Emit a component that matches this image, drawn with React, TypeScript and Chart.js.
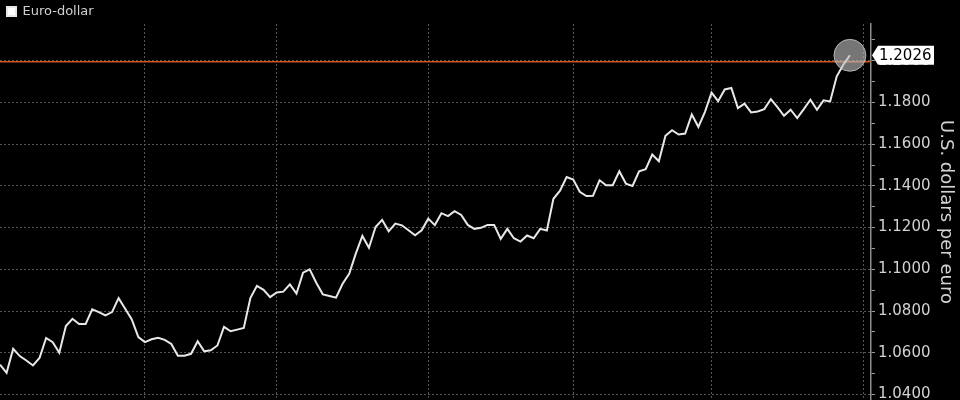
import React, { useEffect, useRef } from 'react';
import { Chart, registerables } from 'chart.js';

Chart.register(...registerables);

const seriesName = 'Euro-dollar';
const axisTitle = 'U.S. dollars per euro';

// Daily closes, one value per business day (Mar 2 – Aug 30)
const march = [1.0543, 1.0504, 1.0619, 1.0584, 1.0563, 1.0539, 1.0575, 1.0671, 1.0651, 1.06, 1.0728, 1.0763, 1.0738, 1.0738, 1.0808, 1.0795, 1.0779, 1.0795, 1.0862, 1.0811, 1.076, 1.0675];
const april = [1.0651, 1.0665, 1.0672, 1.0662, 1.0642, 1.0586, 1.0586, 1.0595, 1.0655, 1.0607, 1.0612, 1.0635, 1.0724, 1.0703, 1.0711, 1.0719, 1.0862, 1.0921, 1.0902, 1.0867];
const may = [1.0889, 1.0893, 1.0928, 1.0884, 1.0984, 1.1, 1.0936, 1.088, 1.0872, 1.0864, 1.0931, 1.0979, 1.1075, 1.116, 1.1103, 1.1203, 1.1237, 1.1182, 1.1219, 1.1211, 1.1187, 1.1163, 1.1187];
const june = [1.1243, 1.1212, 1.1269, 1.1255, 1.1279, 1.1261, 1.1213, 1.1194, 1.1199, 1.1213, 1.1213, 1.1146, 1.1194, 1.1149, 1.1133, 1.1162, 1.1149, 1.1194, 1.1186, 1.1338, 1.1377, 1.1442];
const july = [1.143, 1.1372, 1.1351, 1.1352, 1.1427, 1.1403, 1.1403, 1.147, 1.1411, 1.14, 1.147, 1.148, 1.155, 1.1518, 1.164, 1.1667, 1.1646, 1.1651, 1.1742, 1.1683, 1.1755];
const august = [1.1847, 1.1806, 1.1862, 1.1869, 1.1773, 1.1794, 1.1752, 1.1757, 1.1768, 1.1816, 1.1778, 1.1736, 1.1765, 1.1725, 1.1768, 1.1813, 1.1765, 1.181, 1.1805, 1.1925, 1.1981, 1.2026];

const values = [...march, ...april, ...may, ...june, ...july, ...august];

// business-day index of the first value, and of each month start (Apr..Sep)
const firstIndex = 1;
const monthStartIndex = [23, 43, 66, 88, 109, 132];
const xRange = [1, 133.2];

const yTicks = [1.04, 1.05, 1.06, 1.07, 1.08, 1.09, 1.1, 1.11, 1.12, 1.13, 1.14, 1.15, 1.16, 1.17, 1.18, 1.19, 1.2, 1.21];
const yRange = [1.03736, 1.2176];
const referenceLevel = 1.1995;

const FONT = '"DejaVu Sans", "Noto Sans", sans-serif';

export default function App() {
  const ref = useRef<HTMLCanvasElement>(null);

  useEffect(() => {
    const canvas = ref.current;
    if (!canvas) return;
    const points = values.map((v, i) => ({ x: firstIndex + i, y: v }));
    const last = points.length - 1;
    const isMajor = (v: number) => Math.round(v * 100) % 2 === 0;

    const lastLabel = {
      id: 'lastLabel',
      afterDraw(chart: any) {
        const { ctx, scales } = chart;
        const yScale = scales.y;
        const y = yScale.getPixelForValue(values[last]);
        const x0 = yScale.left + 1;
        ctx.save();
        ctx.fillStyle = '#ffffff';
        ctx.beginPath();
        ctx.moveTo(x0, y);
        ctx.lineTo(x0 + 6, y - 9.5);
        ctx.lineTo(x0 + 62, y - 9.5);
        ctx.lineTo(x0 + 62, y + 9.5);
        ctx.lineTo(x0 + 6, y + 9.5);
        ctx.closePath();
        ctx.fill();
        ctx.fillStyle = '#000000';
        ctx.font = '15px ' + FONT;
        ctx.textBaseline = 'middle';
        ctx.textAlign = 'left';
        ctx.fillText(values[last].toFixed(4), x0 + 7, y + 1);
        ctx.restore();
      },
    };

    const chart = new Chart(canvas, {
      type: 'line',
      data: {
        datasets: [
          {
            label: seriesName,
            data: points,
            borderColor: '#e8e8e8',
            backgroundColor: '#ffffff',
            borderWidth: 2,
            tension: 0,
            pointRadius: (c: any) => (c.dataIndex === last ? 16 : 0),
            pointHoverRadius: 0,
            pointBackgroundColor: 'rgba(190,190,190,0.62)',
            pointBorderColor: 'rgba(215,215,215,0.7)',
            pointBorderWidth: 1,
          },
          {
            label: 'ref',
            data: [
              { x: xRange[0], y: referenceLevel },
              { x: xRange[1], y: referenceLevel },
            ],
            borderColor: '#cc521c',
            borderWidth: 1.5,
            pointRadius: 0,
          },
        ],
      },
      options: {
        animation: false,
        responsive: true,
        maintainAspectRatio: false,
        layout: { padding: { top: -2, left: 0, right: 0, bottom: 0 }, autoPadding: false },
        font: { family: FONT },
        plugins: {
          tooltip: { enabled: false },
          legend: {
            position: 'top',
            align: 'start',
            maxHeight: 26,
            labels: {
              filter: (item: any) => item.datasetIndex === 0,
              boxWidth: 9,
              boxHeight: 9,
              padding: 7,
              color: '#d0d0d0',
              font: { family: FONT, size: 13 },
            },
          },
        },
        scales: {
          x: {
            type: 'linear',
            min: xRange[0],
            max: xRange[1],
            afterBuildTicks: (s: any) => {
              s.ticks = monthStartIndex.map((v) => ({ value: v }));
            },
            afterFit: (s: any) => {
              s.height = 0;
              s.paddingLeft = 0;
              s.paddingRight = 0;
            },
            ticks: { display: false },
            grid: { color: '#555555', lineWidth: 1, drawTicks: false },
            border: { display: false, dash: [2, 2] },
          },
          y: {
            type: 'linear',
            position: 'right',
            min: yRange[0],
            max: yRange[1],
            afterBuildTicks: (s: any) => {
              s.ticks = yTicks.map((v) => ({ value: v }));
            },
            afterFit: (s: any) => {
              s.width = 89;
              s.paddingTop = 0;
              s.paddingBottom = 0;
            },
            ticks: {
              padding: 3,
              color: '#d2d2d2',
              font: { family: FONT, size: 15 },
              callback: (v: any) => (isMajor(Number(v)) ? Number(v).toFixed(4) : ''),
            },
            grid: {
              color: (c: any) => (c.tick && isMajor(c.tick.value) ? '#555555' : 'rgba(0,0,0,0)'),
              tickColor: '#9a9a9a',
              tickLength: 4,
              lineWidth: 1,
            },
            border: { display: true, color: '#8c8c8c', width: 1.5, dash: [2, 2] },
            title: {
              display: true,
              text: axisTitle,
              color: '#d2d2d2',
              font: { family: FONT, size: 18 },
              padding: { top: 4, bottom: 0 },
            },
          },
        },
      },
      plugins: [lastLabel],
    } as any);

    return () => chart.destroy();
  }, []);

  return (
    <div style={{ position: 'fixed', left: 0, top: 0, width: 960, height: 400, background: '#000' }}>
      <canvas ref={ref} />
    </div>
  );
}
